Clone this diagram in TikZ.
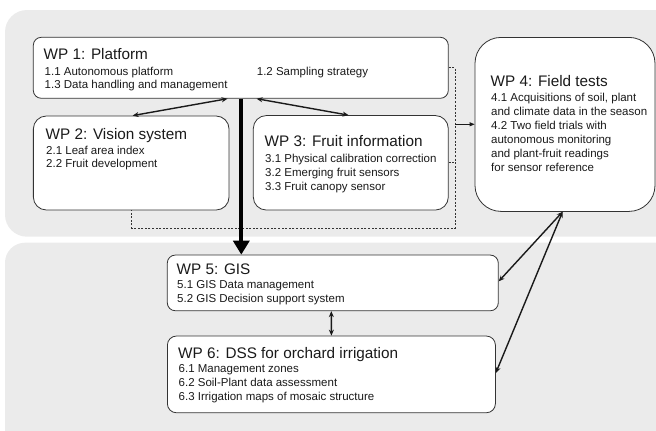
\documentclass[tikz,border=0pt]{standalone}
\usepackage{fontspec}
\setmainfont{Liberation Sans}
\usetikzlibrary{arrows.meta,calc}
\definecolor{panel}{HTML}{EBEBEB}
\definecolor{edge}{HTML}{333333}
\definecolor{ink}{HTML}{1A1A1A}
\tikzset{
  wpbox/.style={draw=edge, line width=0.8pt, fill=white, rectangle, inner sep=0pt},
  wptitle/.style={anchor=base west, inner sep=0pt, text=ink, font=\fontsize{15.3}{18}\selectfont},
  wpitem/.style={anchor=base west, inner sep=0pt, text=ink, font=\fontsize{11.5}{14}\selectfont},
  dbl/.style={line width=1.4pt, {Stealth[length=6pt,width=5pt]}-{Stealth[length=6pt,width=5pt]}},
  thick arrow/.style={line width=4pt, -{Triangle[length=14pt,width=16pt]}},
  dashline/.style={draw=edge, line width=0.6pt, dash pattern=on 2pt off 1.6pt},
}
\begin{document}
\begin{tikzpicture}[x=1pt,y=-1pt]
\useasboundingbox (0,0) rectangle (656,431);
% panels
\fill[panel, rounded corners=22pt] (5,10) rectangle (678,236.7);
\fill[panel, rounded corners=20pt] (5,242.7) rectangle (678,452);
% boxes
\node[wpbox, rounded corners=8pt, minimum width=415pt, minimum height=61pt] (wp1) at (240.8,67.8) {};
\node[wpbox, rounded corners=13pt, minimum width=195.7pt, minimum height=94pt] (wp2) at (131.2,163) {};
\node[wpbox, rounded corners=13pt, minimum width=195pt, minimum height=94.5pt] (wp3) at (350.8,162.8) {};
\node[wpbox, rounded corners=26pt, minimum width=180pt, minimum height=174pt] (wp4) at (565,124.4) {};
\node[wpbox, rounded corners=8pt, minimum width=331pt, minimum height=55.7pt] (wp5) at (332.8,282.9) {};
\node[wpbox, rounded corners=9pt, minimum width=328pt, minimum height=76.7pt] (wp6) at (331.4,374.4) {};
% texts WP1
\node[wptitle] (t1) at (43.5,59.3) {WP 1: Platform};
\node[wpitem] (t11) at (44.5,75) {1.1 Autonomous platform};
\node[wpitem] (t12) at (256.7,75) {1.2 Sampling strategy};
\node[wpitem] (t13) at (44.5,88.8) {1.3 Data handling and management};
% WP2
\node[wptitle] (t2) at (45.5,139.3) {WP 2: Vision system};
\node[wpitem] (t21) at (46,154.3) {2.1 Leaf area index};
\node[wpitem] (t22) at (46,167.6) {2.2 Fruit development};
% WP3
\node[wptitle] (t3) at (264.5,146.7) {WP 3: Fruit information};
\node[wpitem] (t31) at (265,162.3) {3.1 Physical calibration correction};
\node[wpitem] (t32) at (265,176.3) {3.2 Emerging fruit sensors};
\node[wpitem] (t33) at (265,190.3) {3.3 Fruit canopy sensor};
% WP4
\node[wptitle] (t4) at (490.5,86) {WP 4: Field tests};
\node[wpitem] (t41) at (491,101.7) {4.1 Acquisitions of soil, plant};
\node[wpitem] (t42) at (491,115.7) {and climate data in the season};
\node[wpitem] (t43) at (491,129.5) {4.2 Two field trials with};
\node[wpitem] (t44) at (491,143.5) {autonomous monitoring};
\node[wpitem] (t45) at (491,157.6) {and plant-fruit readings};
\node[wpitem] (t46) at (491,171.6) {for sensor reference};
% WP5
\node[wptitle] (t5) at (176.5,274) {WP 5: GIS};
\node[wpitem] (t51) at (177,288.3) {5.1 GIS Data management};
\node[wpitem] (t52) at (177,302.7) {5.2 GIS Decision support system};
% WP6
\node[wptitle] (t6) at (178,358.3) {WP 6: DSS for orchard irrigation};
\node[wpitem] (t61) at (178.5,372) {6.1 Management zones};
\node[wpitem] (t62) at (178.5,386.5) {6.2 Soil-Plant data assessment};
\node[wpitem] (t63) at (178.5,400.7) {6.3 Irrigation maps of mosaic structure};
% dashed feedback loop
\coordinate (d1) at (455,67.7);
\coordinate (d2) at (455,228.3);
\coordinate (d3) at (131.7,228.3);
\coordinate (d4) at (455,124.3);
\coordinate (d5) at (455,162.7);
\draw[dashline] (wp1.east |- d1) -- (d1) -- (d2) -- (d3) -- (d3 |- wp2.south);
\draw[dashline] (wp3.east |- d5) -- (d5);
\draw[draw=ink, line width=0.8pt, -{Triangle[length=5pt,width=4pt]}] (d4) -- (d4 -| wp4.west);
% arrows
\draw[dbl, draw=ink] ($(wp1.south west)+(194.7,0)$) -- ($(wp2.north west)+(99.7,0)$);
\draw[dbl, draw=ink] ($(wp1.south west)+(223.7,0)$) -- ($(wp3.north west)+(95.7,0)$);
\draw[thick arrow, draw=black] ($(wp1.south west)+(208.4,0)$) -- ($(wp5.north west)+(74.4,0)$);
\draw[dbl, draw=ink] ($(wp4.south west)+(88,0)$) -- ($(wp5.north east)+(0,26.7)$);
\draw[dbl, draw=ink] ($(wp4.south west)+(88,0)$) -- ($(wp6.north east)+(0,37.3)$);
\draw[dbl, draw=ink] ($(wp5.south west)+(164.4,0)$) -- ($(wp6.north west)+(164.4,0)$);
\end{tikzpicture}
\end{document}
